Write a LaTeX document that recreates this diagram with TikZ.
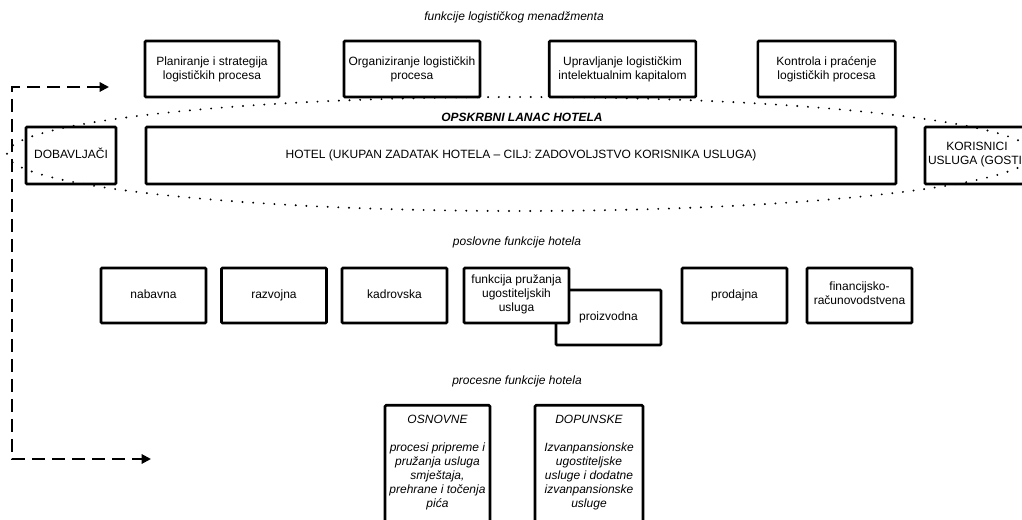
\documentclass[tikz,border=0pt]{standalone}
\usepackage{fontspec}
\setmainfont{Liberation Sans}
\usepackage{tikz}
\usetikzlibrary{arrows.meta}

\begin{document}
\begin{tikzpicture}[x=0.75pt,y=-0.75pt,font=\fontsize{9}{10.5}\selectfont]
    \tikzstyle{okvir}=[draw,line width=2pt,rounded corners=0.8pt,align=center,inner sep=2pt,fill=white]
    \tikzstyle{naslov}=[font=\fontsize{9}{10.5}\selectfont\itshape,align=center]
    \tikzstyle{gornji}=[okvir,minimum height=42pt]
    \tikzstyle{lanac}=[okvir,minimum height=42.75pt,execute at begin node=\strut]
    \tikzstyle{poslovna}=[okvir,minimum width=78.75pt,minimum height=41.25pt,execute at begin node=\strut]
    \tikzstyle{procesna}=[okvir,minimum height=100pt,anchor=north]
    \tikzstyle{tocke}=[line width=1.6pt,line cap=round,dash pattern=on 0pt off 8pt]
    \tikzstyle{povrat}=[line width=1.5pt,dash pattern=on 10pt off 5pt,{Triangle[length=7pt,width=7pt]}-{Triangle[length=7pt,width=7pt]}]

    \useasboundingbox (0,0) rectangle (1022,520);

    \node[naslov] (logistika) at (514,17) {funkcije logističkog menadžmenta};
    \node[gornji,minimum width=100.5pt] (planiranje) at (212,69) {Planiranje i strategija\\logističkih procesa};
    \node[gornji,minimum width=102pt] (organiziranje) at (412,69) {Organiziranje logističkih\\procesa};
    \node[gornji,minimum width=110pt] (upravljanje) at (622.5,69) {Upravljanje logističkim\\intelektualnim kapitalom};
    \node[gornji,minimum width=103pt] (kontrola) at (826.5,69) {Kontrola i praćenje\\logističkih procesa};

    \node[font=\fontsize{9}{10.5}\selectfont\bfseries\itshape] (opskrbni) at (522,117) {OPSKRBNI LANAC HOTELA};
    \node[lanac,minimum width=67.5pt] (dobavljaci) at (71,155.5) {DOBAVLJAČI};
    \node[lanac,minimum width=562.5pt] (hotel) at (521,155.5) {HOTEL (UKUPAN ZADATAK HOTELA – CILJ: ZADOVOLJSTVO KORISNIKA USLUGA)};
    \node[lanac,minimum width=78pt] (korisnici) at (977,155.5) {KORISNICI\\USLUGA (GOSTI)};

    \node[naslov] (poslovne) at (517,242) {poslovne funkcije hotela};
    \node[poslovna] (nabavna) at (153.5,295.5) {nabavna};
    \node[poslovna] (razvojna) at (274,295.5) {razvojna};
    \node[poslovna] (kadrovska) at (394.5,295.5) {kadrovska};
    \node[poslovna] (proizvodna) at (608.5,317.5) {proizvodna};
    \node[poslovna] (pruzanje) at (516.5,295.5) {funkcija pružanja\\ugostiteljskih\\usluga};
    \node[poslovna] (prodajna) at (734.5,295.5) {prodajna};
    \node[poslovna] (financijska) at (859.5,295.5) {financijsko-\\računovodstvena};

    \node[naslov] (procesne) at (517,381) {procesne funkcije hotela};
    \node[procesna,minimum width=78.75pt] (osnovne) at (437.5,404) {};
    \node[procesna,minimum width=81pt] (dopunske) at (589,404) {};
    \node[naslov,anchor=north,inner sep=0pt] (osnovnetekst) at ([yshift=-8pt]osnovne.north) {OSNOVNE\\[10.5pt]procesi pripreme i\\pružanja usluga\\smještaja,\\prehrane i točenja\\pića};
    \node[naslov,anchor=north,inner sep=0pt] (dopunsketekst) at ([yshift=-8pt]dopunske.north) {DOPUNSKE\\[10.5pt]Izvanpansionske\\ugostiteljske\\usluge i dodatne\\izvanpansionske\\usluge};

    \draw[tocke] (520,154) ellipse [x radius=384.75pt, y radius=42.75pt];

    \coordinate (povratgore) at (109,87);
    \coordinate (povratkut) at (12,87);
    \coordinate (povratdolje) at (151,459);
    \draw[povrat] (povratgore) -- (povratkut) |- (povratdolje);
\end{tikzpicture}
\end{document}
